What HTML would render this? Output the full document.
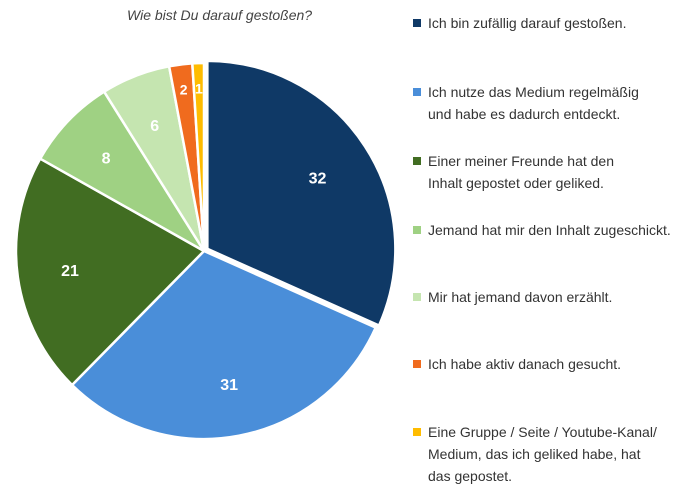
<!DOCTYPE html>
<html><head><meta charset="utf-8"><style>
body{margin:0;background:#fff;width:700px;height:487px;overflow:hidden;font-family:"Liberation Sans",sans-serif;}
.t{position:absolute;left:127px;top:7px;font-size:14px;font-style:italic;color:#444;}
.l{position:absolute;left:428px;font-size:14px;color:#333;line-height:22px;}
.m{position:absolute;left:413px;width:8px;height:8px;}
</style></head><body>
<div class="t">Wie bist Du darauf gestoßen?</div>
<svg id="s" width="700" height="487" style="position:absolute;left:0;top:0"></svg>
<div class="m" style="top:19px;background:#0f3966"></div><div class="l" style="top:12px">Ich bin zufällig darauf gestoßen.</div>
<div class="m" style="top:88px;background:#4a8ed9"></div><div class="l" style="top:81px">Ich nutze das Medium regelmäßig<br>und habe es dadurch entdeckt.</div>
<div class="m" style="top:157px;background:#416d22"></div><div class="l" style="top:150px">Einer meiner Freunde hat den<br>Inhalt gepostet oder geliked.</div>
<div class="m" style="top:226px;background:#9fd183"></div><div class="l" style="top:219px">Jemand hat mir den Inhalt zugeschickt.</div>
<div class="m" style="top:293px;background:#c5e5b0"></div><div class="l" style="top:286px">Mir hat jemand davon erzählt.</div>
<div class="m" style="top:360px;background:#f06b1e"></div><div class="l" style="top:353px">Ich habe aktiv danach gesucht.</div>
<div class="m" style="top:428px;background:#ffbc00"></div><div class="l" style="top:421px">Eine Gruppe / Seite / Youtube-Kanal/<br>Medium, das ich geliked habe, hat<br>das gepostet.</div>
<script>
var d=[[32,"#0f3966"],[31,"#4a8ed9"],[21,"#416d22"],[8,"#9fd183"],[6,"#c5e5b0"],[2,"#f06b1e"],[1,"#ffbc00"]];
var cx=204,cy=251,r=188,a=0,h="",t="";
d.forEach(function(e,i){var a0=a/101*2*Math.PI,a1=(a+e[0])/101*2*Math.PI;a+=e[0];
var ox=0,oy=0;if(i==0){var m=(a0+a1)/2;ox=4*Math.sin(m);oy=-4*Math.cos(m);}
var x0=cx+ox+r*Math.sin(a0),y0=cy+oy-r*Math.cos(a0),x1=cx+ox+r*Math.sin(a1),y1=cy+oy-r*Math.cos(a1);
h+='<path d="M'+(cx+ox)+','+(cy+oy)+'L'+x0+','+y0+'A'+r+','+r+' 0 '+((a1-a0)>Math.PI?1:0)+' 1 '+x1+','+y1+'Z" fill="'+e[1]+'" stroke="#fff" stroke-width="2.5"/>';
var m=(a0+a1)/2,k=e[0]<3?0.87:(e[0]<10?0.72:0.72);
t+='<text x="'+(cx+k*r*Math.sin(m))+'" y="'+(cy-k*r*Math.cos(m)+6)+'" fill="#fff" font-weight="bold" font-size="'+(e[0]<3?14:16)+'" text-anchor="middle" font-family="Liberation Sans,sans-serif">'+e[0]+'</text>';});
document.getElementById("s").innerHTML=h+t;
</script>
</body></html>
